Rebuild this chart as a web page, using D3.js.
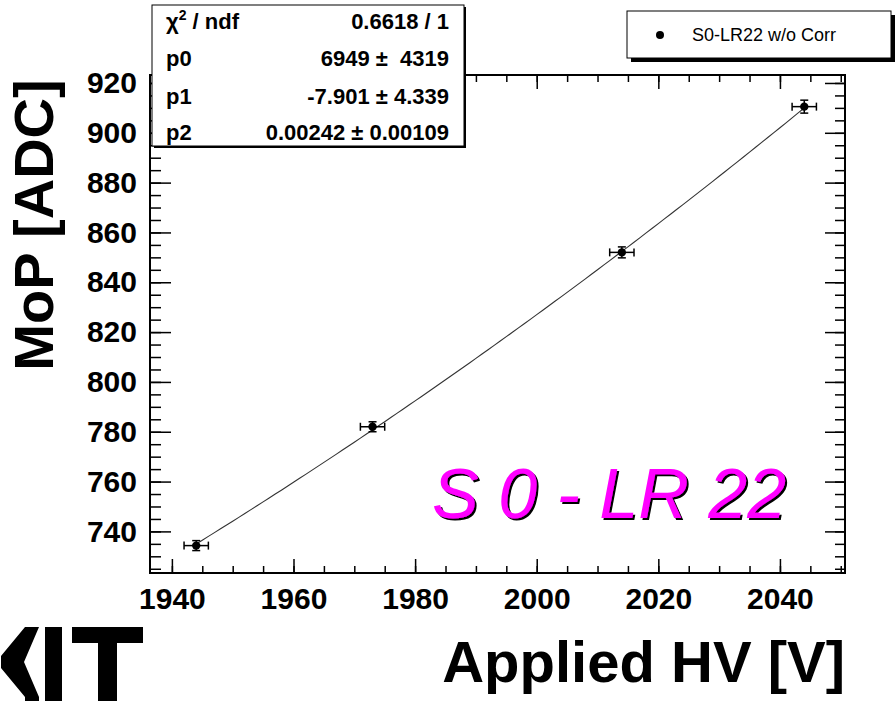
<!DOCTYPE html>
<html>
<head>
<meta charset="utf-8">
<script src="https://cdn.jsdelivr.net/npm/d3@7"></script>
<style>
  body { margin: 0; background: #fff; }
  svg { display: block; font-family: "Liberation Sans", Arial, sans-serif; }
</style>
</head>
<body>
<svg id="chart" width="896" height="701"></svg>
<script>
// measured points
const hv = [1944, 1973, 2014, 2044];
const mop = [734.3, 782, 852, 910.5];
const hvErr = [2, 2, 2, 2];
const mopErr = [2, 2, 2.2, 2.6];

// fit pol2
const fitPars = [6949, -7.901, 0.00242];
const statRows = [
    ['chi', '0.6618 / 1'],
    ['p0', '6949 \u00b1\u00a0 4319'],
    ['p1', '-7.901 \u00b1 4.339'],
    ['p2', '0.00242 \u00b1 0.00109']
];

const xMajor = [1940, 1960, 1980, 2000, 2020, 2040];
const yMajor = [740, 760, 780, 800, 820, 840, 860, 880, 900, 920];
const xMinor = d3.range(1940, 2051, 5);
const yMinor = d3.range(725, 921, 5);

const legendLabel = 'S0-LR22 w/o Corr';
const tagText = 'S 0 - LR 22';

const svg = d3.select('#chart');
const frame = {left: 150, right: 845, top: 75, bottom: 573};

const x = d3.scaleLinear().domain([1936.4, 2050.7]).range([frame.left, frame.right]);
const y = d3.scaleLinear().domain([723.3, 923.2]).range([frame.bottom, frame.top]);

const data = hv.map((d, i) => ({x: d, y: mop[i], ex: hvErr[i], ey: mopErr[i]}));

// shadow for the magenta tag
const defs = svg.append('defs');
defs.append('filter').attr('id', 'shadow')
    .append('feDropShadow')
    .attr('dx', 2).attr('dy', 2).attr('stdDeviation', 0.3)
    .attr('flood-color', '#000').attr('flood-opacity', 1);

// axes: bottom / left with labels, top / right mirrored ticks
const axisStyle = (g) => {
    g.select('.domain').remove();
    g.selectAll('line').attr('stroke', '#000').attr('stroke-width', 1.5);
};
const labelStyle = g => g.selectAll('text')
    .attr('font-size', 30).attr('font-weight', 'bold').attr('fill', '#000')
    .attr('font-family', '"Liberation Sans", Arial, sans-serif');

svg.append('g')
    .attr('transform', 'translate(0,' + frame.bottom + ')')
    .call(d3.axisBottom(x).tickValues(xMinor).tickSize(-7).tickFormat(''))
    .call(axisStyle);
svg.append('g')
    .attr('transform', 'translate(0,' + frame.bottom + ')')
    .call(d3.axisBottom(x).tickValues(xMajor).tickSize(-14).tickPadding(15).tickFormat(d3.format('d')))
    .call(axisStyle)
    .call(labelStyle);

svg.append('g')
    .attr('transform', 'translate(0,' + frame.top + ')')
    .call(d3.axisTop(x).tickValues(xMinor).tickSize(-7).tickFormat(''))
    .call(axisStyle);
svg.append('g')
    .attr('transform', 'translate(0,' + frame.top + ')')
    .call(d3.axisTop(x).tickValues(xMajor).tickSize(-14).tickFormat(''))
    .call(axisStyle);

svg.append('g')
    .attr('transform', 'translate(' + frame.left + ',0)')
    .call(d3.axisLeft(y).tickValues(yMinor).tickSize(-11).tickFormat(''))
    .call(axisStyle);
svg.append('g')
    .attr('transform', 'translate(' + frame.left + ',0)')
    .call(d3.axisLeft(y).tickValues(yMajor).tickSize(-21).tickPadding(13).tickFormat(d3.format('d')))
    .call(axisStyle)
    .call(labelStyle);

svg.append('g')
    .attr('transform', 'translate(' + frame.right + ',0)')
    .call(d3.axisRight(y).tickValues(yMinor).tickSize(-10).tickFormat(''))
    .call(axisStyle);
svg.append('g')
    .attr('transform', 'translate(' + frame.right + ',0)')
    .call(d3.axisRight(y).tickValues(yMajor).tickSize(-20).tickFormat(''))
    .call(axisStyle);

// frame
svg.append('rect')
    .attr('x', frame.left).attr('y', frame.top)
    .attr('width', frame.right - frame.left).attr('height', frame.bottom - frame.top)
    .attr('fill', 'none').attr('stroke', '#000').attr('stroke-width', 2);

// fit curve
const fitFn = v => fitPars[0] + fitPars[1] * v + fitPars[2] * v * v;
const fitX = d3.range(hv[0], hv[hv.length - 1] + 0.01, 1);
svg.append('path')
    .datum(fitX)
    .attr('fill', 'none')
    .attr('stroke', '#333')
    .attr('stroke-width', 1.1)
    .attr('d', d3.line().x(d => x(d)).y(d => y(fitFn(d))));

// error bars + markers
const pts = svg.append('g');
const cap = 4;
data.forEach(d => {
    const cx = x(d.x), cy = y(d.y);
    const g = pts.append('g').attr('stroke', '#000').attr('stroke-width', 1.5);
    g.append('line').attr('x1', x(d.x - d.ex)).attr('x2', x(d.x + d.ex)).attr('y1', cy).attr('y2', cy);
    g.append('line').attr('x1', x(d.x - d.ex)).attr('x2', x(d.x - d.ex)).attr('y1', cy - cap).attr('y2', cy + cap);
    g.append('line').attr('x1', x(d.x + d.ex)).attr('x2', x(d.x + d.ex)).attr('y1', cy - cap).attr('y2', cy + cap);
    g.append('line').attr('x1', cx).attr('x2', cx).attr('y1', y(d.y - d.ey)).attr('y2', y(d.y + d.ey));
    g.append('line').attr('x1', cx - cap).attr('x2', cx + cap).attr('y1', y(d.y - d.ey)).attr('y2', y(d.y - d.ey));
    g.append('line').attr('x1', cx - cap).attr('x2', cx + cap).attr('y1', y(d.y + d.ey)).attr('y2', y(d.y + d.ey));
    pts.append('circle').attr('cx', cx).attr('cy', cy).attr('r', 4.2).attr('fill', '#000');
});

// stat box
const stat = {x: 152, y: 5, w: 312, h: 141};
svg.append('rect').attr('x', stat.x + 2).attr('y', stat.y + 2).attr('width', stat.w).attr('height', stat.h).attr('fill', '#000');
svg.append('rect').attr('x', stat.x).attr('y', stat.y).attr('width', stat.w).attr('height', stat.h)
    .attr('fill', '#fff').attr('stroke', '#000').attr('stroke-width', 1);
const rowY = [29, 66, 104, 140];
statRows.forEach((r, i) => {
    const t = svg.append('text').attr('x', 166).attr('y', rowY[i])
        .attr('font-size', 22).attr('font-weight', 'bold');
    if (r[0] === 'chi') {
        t.append('tspan').text('\u03c7');
        t.append('tspan').attr('font-size', 14).attr('dy', -9).text('2');
        t.append('tspan').attr('dy', 9).text(' / ndf');
    } else {
        t.text(r[0]);
    }
    svg.append('text').attr('x', 449).attr('y', rowY[i]).attr('text-anchor', 'end')
        .attr('font-size', 22).attr('font-weight', 'bold').text(r[1]);
});

// legend
const leg = {x: 627, y: 11, w: 264, h: 47};
svg.append('rect').attr('x', leg.x + 4).attr('y', leg.y + 4).attr('width', leg.w).attr('height', leg.h).attr('fill', '#000');
svg.append('rect').attr('x', leg.x).attr('y', leg.y).attr('width', leg.w).attr('height', leg.h)
    .attr('fill', '#fff').attr('stroke', '#000').attr('stroke-width', 1);
svg.append('circle').attr('cx', 660).attr('cy', 35).attr('r', 4).attr('fill', '#000');
svg.append('text').attr('x', 692).attr('y', 41).attr('font-size', 18).text(legendLabel);

// tag
svg.append('text').attr('x', 432).attr('y', 518).attr('font-size', 70).attr('font-style', 'italic')
    .attr('fill', '#ff00ff').attr('filter', 'url(#shadow)').text(tagText);

// axis titles
svg.append('text').attr('transform', 'translate(53,225) rotate(-90)')
    .attr('text-anchor', 'middle').attr('font-size', 56).attr('font-weight', 'bold').text('MoP [ADC]');
svg.append('text').attr('x', 845).attr('y', 682).attr('text-anchor', 'end')
    .attr('font-size', 58).attr('font-weight', 'bold').text('Applied HV [V]');

// KIT logo
const logo = svg.append('g').attr('fill', '#000');
logo.append('path').attr('d', 'M25,627 L39,627 L24,662 L39,697 L39,701 L25,701 L25,697 L1,668 L1,656 Z');
logo.append('rect').attr('x', 45).attr('y', 627).attr('width', 17).attr('height', 74);
logo.append('rect').attr('x', 72).attr('y', 627).attr('width', 71).attr('height', 16);
logo.append('rect').attr('x', 98).attr('y', 627).attr('width', 19).attr('height', 74);
</script>
</body>
</html>
